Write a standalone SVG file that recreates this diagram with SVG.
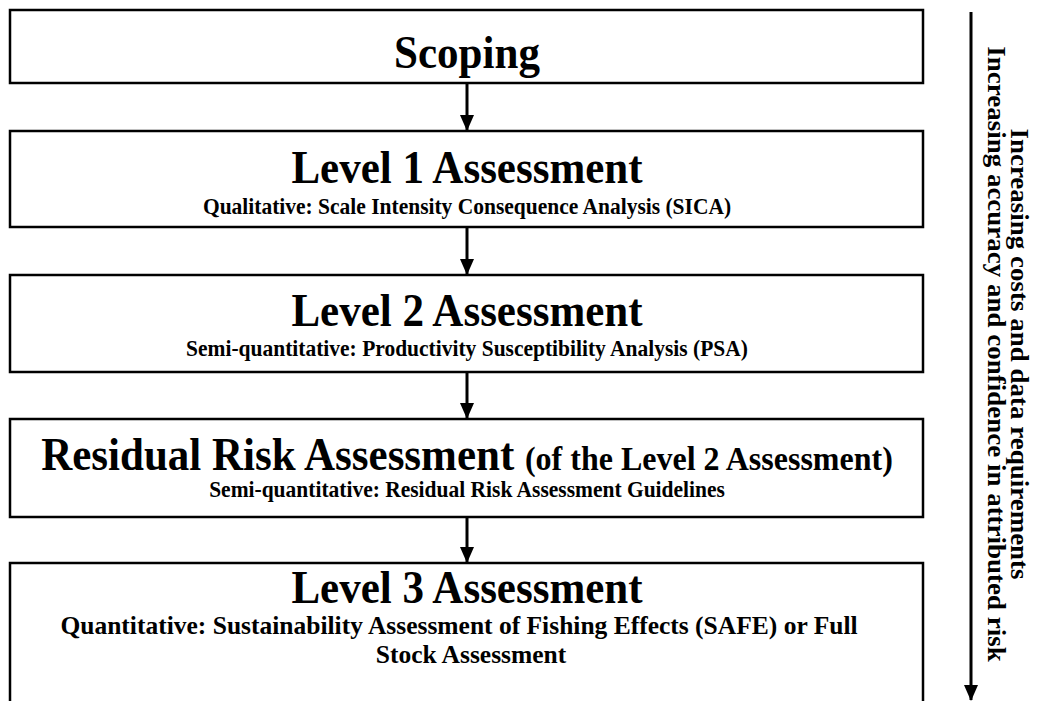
<svg xmlns="http://www.w3.org/2000/svg" width="1043" height="701" viewBox="0 0 1043 701">
<defs>
<style>
.box{fill:#fff;stroke:#000;stroke-width:2.5}
.t{font-family:"Liberation Serif","Times New Roman",serif;font-weight:bold;fill:#000;text-anchor:middle}
.h{font-size:43px}
.s{font-size:21.5px}
.l{font-size:25.5px}
.m{font-size:32px}
.v{font-size:25px}
.c{stroke:#000;stroke-width:3;fill:none;marker-end:url(#ah)}
</style>
<marker id="ah" viewBox="0 0 16 14" refX="15" refY="7" markerWidth="16" markerHeight="14" markerUnits="userSpaceOnUse" orient="auto">
<path d="M0,0 L16,7 L0,14 Z" fill="#000"/>
</marker>
</defs>
<rect width="1043" height="701" fill="#fff"/>
<g id="scoping">
<rect class="box" x="10" y="10" width="913" height="73"/>
<text class="t h" transform="translate(467,68) scale(1,1.08)">Scoping</text>
</g>
<g id="level1">
<rect class="box" x="10" y="131" width="913" height="96"/>
<text class="t h" transform="translate(467,183) scale(1,1.08)">Level 1 Assessment</text>
<text class="t s" transform="translate(467,214) scale(1,1.08)">Qualitative: Scale Intensity Consequence Analysis (SICA)</text>
</g>
<g id="level2">
<rect class="box" x="10" y="275" width="913" height="97"/>
<text class="t h" transform="translate(467,326) scale(1,1.08)">Level 2 Assessment</text>
<text class="t s" transform="translate(467,356) scale(1,1.08)">Semi-quantitative: Productivity Susceptibility Analysis (PSA)</text>
</g>
<g id="residual">
<rect class="box" x="10" y="419" width="913" height="98"/>
<text class="t h" transform="translate(467,470) scale(1,1.08)">Residual Risk Assessment <tspan class="m">(of the Level 2 Assessment)</tspan></text>
<text class="t s" transform="translate(467,497) scale(1,1.08)">Semi-quantitative: Residual Risk Assessment Guidelines</text>
</g>
<g id="level3">
<rect class="box" x="10" y="563" width="913" height="160"/>
<text class="t h" transform="translate(467,603) scale(1,1.08)">Level 3 Assessment</text>
<text class="t l" transform="translate(459,634)">Quantitative: Sustainability Assessment of Fishing Effects (SAFE) or Full</text>
<text class="t l" transform="translate(471,663)">Stock Assessment</text>
</g>
<g id="axis-label">
<text class="t v" transform="translate(1011,354) rotate(90) scale(1.08,1)">Increasing costs and data requirements</text>
<text class="t v" transform="translate(988,354) rotate(90) scale(1.08,1)">Increasing accuracy and confidence in attributed risk</text>
</g>
<g id="connectors">
<line class="c" x1="467" y1="84" x2="467" y2="130"/>
<line class="c" x1="467" y1="228" x2="467" y2="274"/>
<line class="c" x1="467" y1="373" x2="467" y2="418"/>
<line class="c" x1="467" y1="518" x2="467" y2="562"/>
<line class="c" x1="971" y1="12" x2="971" y2="700"/>
</g>
</svg>
